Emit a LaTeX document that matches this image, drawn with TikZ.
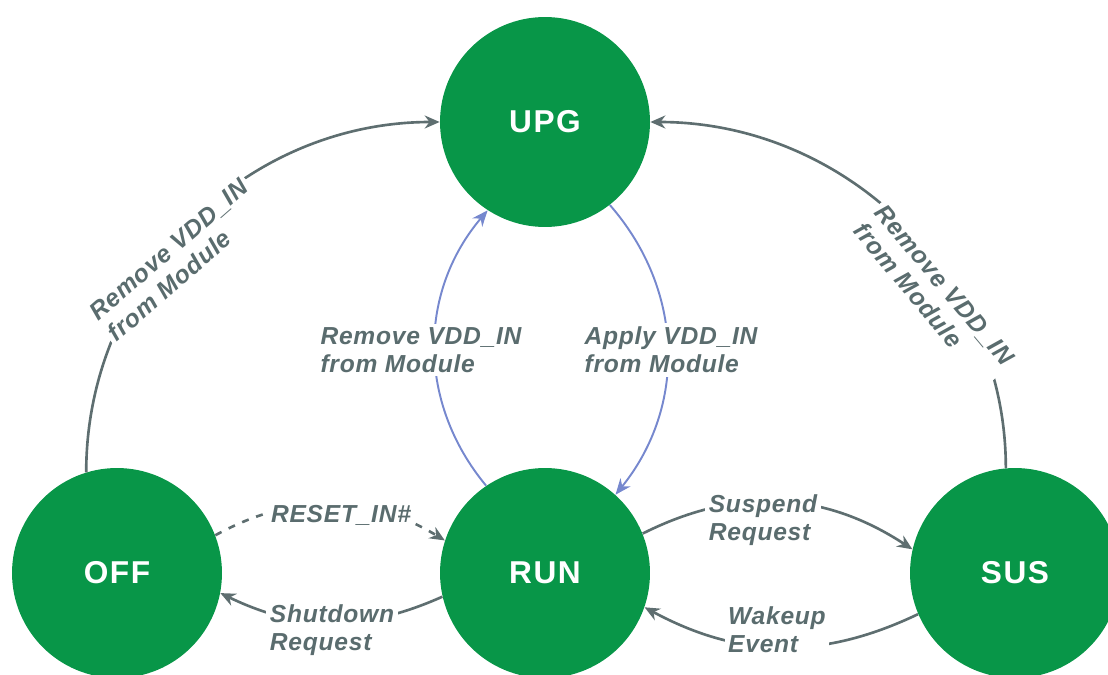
\documentclass[tikz,border=0pt]{standalone}
\usepackage{fontspec}
\setmainfont{Liberation Sans}
\newfontfamily\statefont[LetterSpace=5]{Liberation Sans}
\newfontfamily\edgefont[LetterSpace=3]{Liberation Sans}
\usetikzlibrary{arrows.meta}
\definecolor{stategreen}{RGB}{8,150,72}
\definecolor{edgegray}{RGB}{94,110,112}
\definecolor{labelgray}{RGB}{90,108,110}
\definecolor{edgeblue}{RGB}{118,136,206}

\begin{document}
\begin{tikzpicture}[
    x=0.02cm,y=0.02cm,
    state/.style={circle,fill=stategreen,draw=none,minimum size=4.2cm,
      inner sep=0pt,text=white,
      font=\statefont\fontsize{18}{20}\selectfont\bfseries},
    edge/.style={-{Stealth[length=3mm,width=2.6mm]},line width=1.5pt,
      draw=edgegray},
    resetedge/.style={edge,dash pattern=on 4pt off 4.5pt},
    vddedge/.style={-{Stealth[length=3.2mm,width=2.6mm]},line width=1.1pt,
      draw=edgeblue},
    lbl/.style={fill=white,inner sep=2pt,align=left,text=labelgray,
      font=\edgefont\fontsize{14}{16}\selectfont\bfseries\itshape},
  ]

  \useasboundingbox (0,0) rectangle (1108,-675);

  % states
  \foreach \nm/\txt/\x/\y in {upg/UPG/545/122, off/OFF/117/573,
                              run/RUN/545/573, sus/SUS/1015/573} {
    \node[state] (\nm) at (\x,-\y) {\txt};
  }

  % power transitions
  \draw[edge] (off.107) to[out=90,in=180] (upg.west);
  \draw[edge] (sus.95) to[out=90,in=0] (upg.east);
  \draw[vddedge] (run.124) to[bend left=40] (upg.237);
  \draw[vddedge] (upg.-52) to[bend left=40] (run.48);

  % run-time transitions
  \draw[resetedge] (off.21) to[bend left=30] (run.162);
  \draw[edge] (run.193) to[bend left=25] (off.-11);
  \draw[edge] (run.22) to[bend left=30] (sus.167);
  \draw[edge] (sus.203) to[bend left=27] (run.-19);

  % labels
  \node[lbl,rotate=41] (offupglbl) at (178,-260) {Remove VDD\_IN\\from Module};
  \node[lbl,rotate=-50] (susupglbl) at (934,-294) {Remove VDD\_IN\\from Module};
  \node[lbl] (runupglbl) at (421,-350) {Remove VDD\_IN\\from Module};
  \node[lbl] (upgrunlbl) at (671,-350) {Apply VDD\_IN\\from Module};
  \node[lbl] (resetlbl) at (341,-515) {RESET\_IN\#};
  \node[lbl] (shutlbl) at (332,-630) {Shutdown\\Request};
  \node[lbl] (susplbl) at (763,-520) {Suspend\\Request};
  \node[lbl] (wakelbl) at (777,-630) {Wakeup\\Event};

\end{tikzpicture}
\end{document}
